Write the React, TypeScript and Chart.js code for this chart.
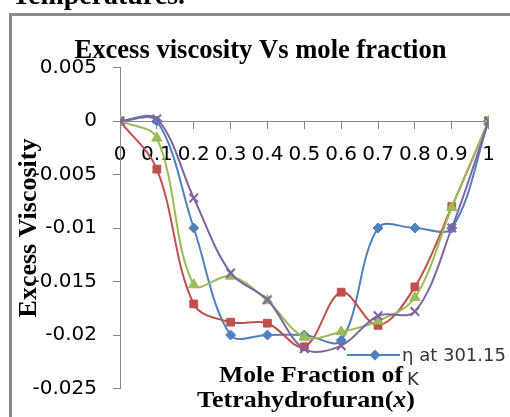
import React, { useEffect, useRef } from "react";
import { Chart, registerables } from "chart.js";

Chart.register(...registerables);

// ---- Data ----
const moleFractions = [0, 0.1, 0.2, 0.3, 0.4, 0.5, 0.6, 0.7, 0.8, 0.9, 1];
const eta30115 = [0, 0, -0.01, -0.02, -0.02, -0.02, -0.0205, -0.01, -0.01, -0.01, 0];
const eta30615 = [0, -0.0045, -0.0171, -0.0188, -0.0189, -0.0211, -0.016, -0.0191, -0.0155, -0.008, 0];
const eta31115 = [0, -0.0016, -0.0153, -0.0145, -0.0168, -0.0202, -0.0197, -0.0187, -0.0165, -0.0081, 0];
const eta31615 = [0, 0.0002, -0.0072, -0.0142, -0.0167, -0.0213, -0.021, -0.0182, -0.0178, -0.01, 0];
const seriesLabels = ["η at 301.15 K", "η at 306.15 K", "η at 311.15 K", "η at 316.15 K"];
const xTickLabels = ["0", "0.1", "0.2", "0.3", "0.4", "0.5", "0.6", "0.7", "0.8", "0.9", "1"];
const yTickLabels = ["-0.025", "-0.02", "-0.015", "-0.01", "-0.005", "0", "0.005"];
const chartTitle = "Excess viscosity Vs mole fraction";
const yAxisTitle = "Excess Viscosity";
const xTitleLine1 = "Mole Fraction of";
const xTitleLine2 = ["Tetrahydrofuran(", "x", ")"];
const headingText = "Temperatures.";
const legendLine1 = "η at 301.15";
const legendLine2 = "K";

const colors = ["#4F81BD", "#C0504D", "#9BBB59", "#8064A2"];
const SERIF = "'Liberation Serif', 'Times New Roman', serif";
const SANS = "'DejaVu Sans', sans-serif";

function drawFitted(ctx: CanvasRenderingContext2D, text: string, font: string, cx: number, baseline: number, width: number, sy = 1) {
  ctx.save();
  ctx.font = font;
  const w = ctx.measureText(text).width;
  ctx.translate(cx, baseline);
  ctx.scale(width / w, sy);
  ctx.textAlign = "center";
  ctx.textBaseline = "alphabetic";
  ctx.fillText(text, 0, 0);
  ctx.restore();
}

function drawRich(ctx: CanvasRenderingContext2D, parts: { t: string; f: string }[], cx: number, baseline: number, width: number) {
  ctx.save();
  let total = 0;
  const ws = parts.map((p) => {
    ctx.font = p.f;
    const w = ctx.measureText(p.t).width;
    total += w;
    return w;
  });
  ctx.translate(cx, baseline);
  ctx.scale(width / total, 1);
  ctx.textAlign = "left";
  ctx.textBaseline = "alphabetic";
  let x = -total / 2;
  parts.forEach((p, i) => {
    ctx.font = p.f;
    ctx.fillText(p.t, x, 0);
    x += ws[i];
  });
  ctx.restore();
}

const decorPlugin = {
  id: "decor",
  afterDraw(chart: any) {
    const ctx: CanvasRenderingContext2D = chart.ctx;
    ctx.save();
    // frame
    ctx.fillStyle = "#8a8a8a";
    ctx.fillRect(9, 13, 501, 3);
    ctx.fillRect(9, 13, 3, 404);
    // heading (cut off at top)
    ctx.fillStyle = "#000";
    drawFitted(ctx, headingText, `bold 27px ${SERIF}`, 98.5, 4, 173);
    // chart title
    drawFitted(ctx, chartTitle, `bold 26px ${SERIF}`, 260.5, 58, 372, 1.05);
    // x axis title
    drawFitted(ctx, xTitleLine1, `bold 23px ${SERIF}`, 311, 382, 184);
    drawRich(
      ctx,
      [
        { t: xTitleLine2[0], f: `bold 23px ${SERIF}` },
        { t: xTitleLine2[1], f: `italic bold 23px ${SERIF}` },
        { t: xTitleLine2[2], f: `bold 23px ${SERIF}` },
      ],
      306,
      407,
      218
    );
    // legend (first entry, partially visible)
    ctx.strokeStyle = colors[0];
    ctx.lineWidth = 2;
    ctx.beginPath();
    ctx.moveTo(347, 355);
    ctx.lineTo(400, 355);
    ctx.stroke();
    ctx.fillStyle = colors[0];
    ctx.beginPath();
    ctx.moveTo(375, 349.5);
    ctx.lineTo(380.5, 355);
    ctx.lineTo(375, 360.5);
    ctx.lineTo(369.5, 355);
    ctx.closePath();
    ctx.fill();
    ctx.fillStyle = "#333";
    ctx.font = `18px ${SANS}`;
    ctx.textAlign = "left";
    ctx.textBaseline = "alphabetic";
    ctx.fillText(legendLine1, 402, 361);
    ctx.fillText(legendLine2, 407, 385);
    ctx.restore();
  },
};

export default function App() {
  const ref = useRef<HTMLCanvasElement>(null);
  useEffect(() => {
    const series = [eta30115, eta30615, eta31115, eta31615];
    const styles = ["rectRot", "rect", "triangle", "crossRot"];
    const radii = [5, 5.5, 6, 6];
    const datasets = series.map((vals, i) => ({
      label: seriesLabels[i],
      data: vals.map((v, j) => ({ x: moleFractions[j], y: v })),
      borderColor: colors[i],
      backgroundColor: colors[i],
      borderWidth: 2,
      pointStyle: styles[i],
      pointRadius: radii[i],
      pointBorderWidth: i === 3 ? 2 : 1,
      pointBackgroundColor: colors[i],
      pointBorderColor: colors[i],
      tension: 0.35,
      showLine: true,
      fill: false,
      order: 4 - i,
    }));
    const chart = new Chart(ref.current!, {
      type: "line",
      data: { datasets },
      plugins: [decorPlugin],
      options: {
        animation: false,
        responsive: false,
        devicePixelRatio: 1,
        layout: { padding: { left: 0, top: 67.5, right: 21, bottom: 28.5 } },
        plugins: { legend: { display: false }, tooltip: { enabled: false }, title: { display: false } },
        scales: {
          x: {
            type: "linear",
            min: 0,
            max: 1,
            position: { y: 0 } as any,
            afterFit: (s: any) => {
              s.height = 0;
            },
            ticks: {
              stepSize: 0.1,
              autoSkip: false,
              maxRotation: 0,
              padding: 15,
              color: "#000",
              font: { family: SANS, size: 20 },
              callback: (_v: any, i: number) => xTickLabels[i],
            },
            grid: { drawOnChartArea: false, tickLength: 7, color: "#868686" },
            border: { color: "#868686" },
          },
          y: {
            type: "linear",
            min: -0.025,
            max: 0.005,
            afterFit: (s: any) => {
              s.width = 120;
            },
            ticks: {
              stepSize: 0.005,
              padding: 16,
              color: "#000",
              font: { family: SANS, size: 20 },
              callback: (_v: any, i: number) => yTickLabels[i],
            },
            grid: { drawOnChartArea: false, tickLength: 7, color: "#868686" },
            border: { color: "#868686" },
            title: {
              display: true,
              text: yAxisTitle,
              color: "#000",
              font: { family: SERIF, size: 26, weight: "bold" },
              padding: { top: 14, bottom: 0 },
            },
          },
        },
      },
    });
    return () => chart.destroy();
  }, []);
  return (
    <div style={{ position: "fixed", left: 0, top: 0, width: 510, height: 417, background: "#fff" }}>
      <canvas ref={ref} width={510} height={417} style={{ display: "block", width: 510, height: 417 }} />
    </div>
  );
}
